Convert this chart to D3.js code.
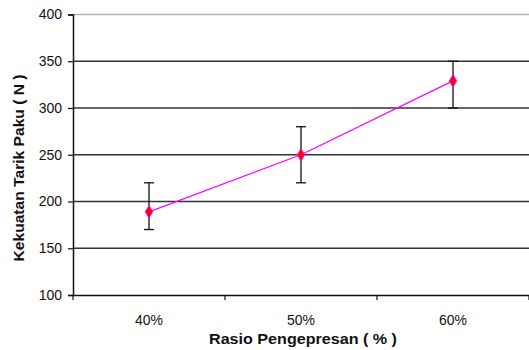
<!DOCTYPE html>
<html><head><meta charset="utf-8">
<script src="https://cdn.jsdelivr.net/npm/d3@7"></script>
<style>body{margin:0;background:#fff;} svg{display:block;font-family:"Liberation Sans",Arial,sans-serif;}</style>
</head><body><svg id="c" width="529" height="350"></svg>
<script>
const categories = ["40%", "50%", "60%"];
const values = [189, 250, 329];
const errLow = [170, 220, 300];
const errHigh = [220, 280, 350];
const yTicks = [100, 150, 200, 250, 300, 350, 400];

const svg = d3.select("#c");
const L = 73, R = 529, T = 14.5, B = 295;
const x = d3.scaleBand().domain(categories).range([L, L + 3 * 152]).padding(0);
const y = d3.scaleLinear().domain([100, 400]).range([B, T]);
const cx = d => x(d) + x.bandwidth() / 2;

// gridlines
svg.append("g").selectAll("line").data(yTicks.filter(v => v > 100)).join("line")
  .attr("x1", L).attr("x2", R).attr("y1", d => y(d)).attr("y2", d => y(d))
  .attr("stroke", d => d === 400 ? "#b0b0b0" : "#333").attr("stroke-width", 1.5);

// y axis
const ya = svg.append("g").attr("transform", `translate(${L},0)`)
  .call(d3.axisLeft(y).tickValues(yTicks).tickSize(5).tickPadding(6));
ya.select(".domain").attr("stroke", "#111").attr("stroke-width", 1.5);
ya.selectAll(".tick line").attr("stroke", "#111").attr("stroke-width", 1.2);
ya.selectAll("text").attr("font-size", 14).attr("fill", "#111").attr("font-family", "Liberation Sans, Arial, sans-serif");

// x axis
const xa = svg.append("g").attr("transform", `translate(0,${B})`)
  .call(d3.axisBottom(x).tickSize(0).tickPadding(20));
xa.select(".domain").attr("stroke", "#111").attr("stroke-width", 1.5);
xa.selectAll("text").attr("font-size", 14).attr("fill", "#111").attr("font-family", "Liberation Sans, Arial, sans-serif");
svg.append("g").selectAll("line").data(d3.range(4)).join("line")
  .attr("x1", i => L + i * x.bandwidth()).attr("x2", i => L + i * x.bandwidth())
  .attr("y1", B).attr("y2", B + 5).attr("stroke", "#111").attr("stroke-width", 1.2);

// error bars
const eb = svg.append("g").attr("stroke", "#111").attr("stroke-width", 1.3);
categories.forEach((c, i) => {
  eb.append("line").attr("x1", cx(c)).attr("x2", cx(c)).attr("y1", y(errLow[i])).attr("y2", y(errHigh[i]));
  [errLow[i], errHigh[i]].forEach(v => eb.append("line").attr("x1", cx(c) - 5).attr("x2", cx(c) + 5).attr("y1", y(v)).attr("y2", y(v)));
});

// line
svg.append("path").datum(values)
  .attr("d", d3.line().x((d, i) => cx(categories[i])).y(d => y(d)))
  .attr("fill", "none").attr("stroke", "#ff00ff").attr("stroke-width", 1.3);

// markers
svg.append("g").selectAll("path").data(values).join("path")
  .attr("d", d3.symbol(d3.symbolDiamond, 45))
  .attr("transform", (d, i) => `translate(${cx(categories[i])},${y(d)})`)
  .attr("fill", "#ff0000").attr("stroke", "#ff00ff").attr("stroke-width", 1);

// titles
svg.append("text").attr("x", 303).attr("y", 344).attr("text-anchor", "middle")
  .attr("font-size", 15).attr("font-weight", "bold").attr("fill", "#111")
  .attr("textLength", 188).attr("lengthAdjust", "spacingAndGlyphs").text("Rasio Pengepresan ( % )");
svg.append("text").attr("transform", "translate(24,168) rotate(-90)").attr("text-anchor", "middle")
  .attr("font-size", 15).attr("font-weight", "bold").attr("fill", "#111")
  .attr("textLength", 187).attr("lengthAdjust", "spacingAndGlyphs").text("Kekuatan Tarik Paku ( N )");
</script></body></html>
